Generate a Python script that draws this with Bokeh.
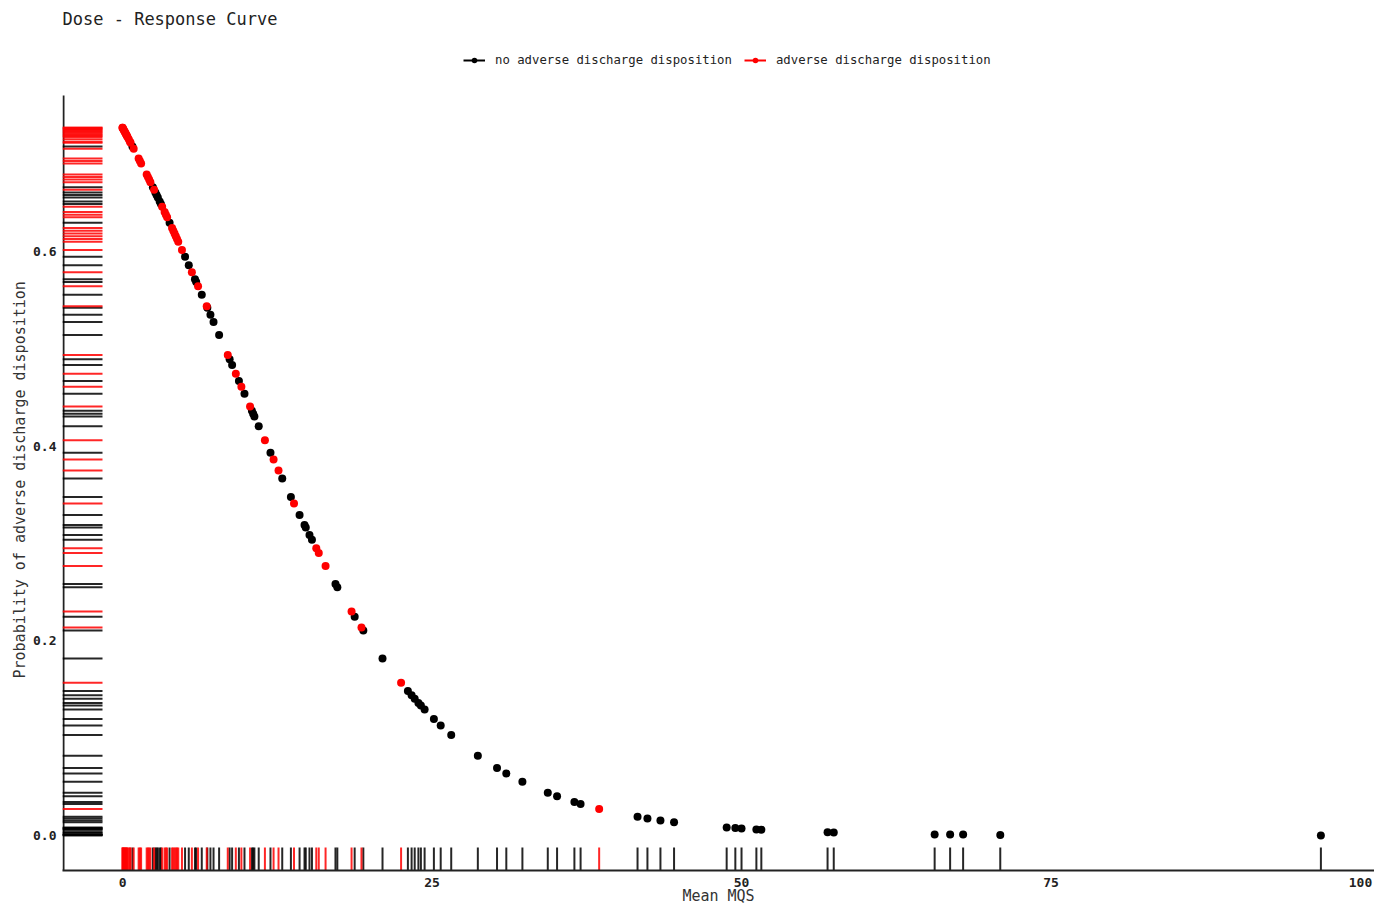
from bokeh.plotting import figure
from bokeh.models import Legend, LegendItem, FixedTicker, Range1d, PrintfTickFormatter, Title
from bokeh.embed import file_html
from bokeh.resources import INLINE

FONT = "DejaVu Sans Mono"
title_text = "Dose - Response Curve"
x_label = "Mean MQS"
y_label = "Probability of adverse discharge disposition"
series_names = ["no adverse discharge disposition", "adverse discharge disposition"]
series_colors = ["#000000", "#ff0000"]
x_ticks = [0, 25, 50, 75, 100]
y_ticks = [0.0, 0.2, 0.4, 0.6]

# Mean MQS of each patient
mqs = [0.0, 0.0, 0.05, 0.1, 0.15, 0.2, 0.25, 0.3, 0.35, 0.4, 0.5, 0.6, 0.65,
       0.8, 0.9, 1.3, 1.4, 1.5, 1.95, 2.05, 2.15, 2.25,
       2.45, 2.55, 2.65, 2.75, 2.85, 3.0, 3.1, 3.2, 3.4, 3.5, 3.6, 3.8,
       4.0, 4.1, 4.2, 4.3, 4.4, 4.5, 4.8, 5.05, 5.35, 5.6, 5.85, 5.95, 6.1, 6.4,
       6.8, 6.85, 7.1, 7.35, 7.8, 8.5, 8.65, 8.85, 9.15, 9.4, 9.6, 9.85,
       10.3, 10.45, 10.55, 10.65, 11.0, 11.5, 11.95, 12.2, 12.6, 12.9, 13.6, 13.85,
       14.3, 14.7, 14.8, 15.1, 15.3, 15.65, 15.85, 16.4, 17.2, 17.35, 18.5, 18.75,
       19.3, 19.45, 21.0, 22.5, 23.05, 23.35, 23.6, 23.9, 24.1, 24.4,
       25.15, 25.7, 26.55, 28.7, 30.25, 31.0, 32.3, 34.35, 35.1, 36.5, 37.0, 38.5,
       41.6, 42.4, 43.45, 44.55, 48.8, 49.5, 50.0, 51.2, 51.6, 56.95, 57.45,
       65.6, 66.85, 67.9, 70.9, 96.8]

# 1 = adverse discharge disposition, 0 = no adverse discharge disposition
adverse = [1, 1, 1, 1, 1, 1, 1, 1, 1, 1, 1, 1, 1,
           0, 1, 1, 1, 1, 1, 1, 1, 1,
           0, 1, 0, 0, 0, 0, 0, 1, 1, 1, 1, 0,
           1, 1, 1, 1, 1, 1, 1, 0, 0, 1, 0, 0, 1, 0,
           1, 0, 0, 0, 0, 1, 0, 0, 1, 0, 1, 0,
           1, 0, 0, 0, 0, 1, 0, 1, 1, 0, 0, 1,
           0, 0, 0, 0, 0, 1, 1, 1, 0, 0, 1, 0,
           1, 0, 0, 1, 0, 0, 0, 0, 0, 0,
           0, 0, 0, 0, 0, 0, 0, 0, 0, 0, 0, 1,
           0, 0, 0, 0, 0, 0, 0, 0, 0, 0, 0,
           0, 0, 0, 0, 0]

# Predicted probability of adverse discharge disposition
prob = [0.7271, 0.7271, 0.7259, 0.7247, 0.7236, 0.7224, 0.7212, 0.7200, 0.7188, 0.7176, 0.7152, 0.7128, 0.7116,
        0.7079, 0.7055, 0.6955, 0.6930, 0.6905, 0.6790, 0.6765, 0.6739, 0.6712,
        0.6660, 0.6634, 0.6607, 0.6580, 0.6554, 0.6514, 0.6487, 0.6460, 0.6406, 0.6378, 0.6351, 0.6296,
        0.6241, 0.6213, 0.6185, 0.6157, 0.6129, 0.6101, 0.6016, 0.5945, 0.5859, 0.5787, 0.5715, 0.5686, 0.5642, 0.5555,
        0.5438, 0.5423, 0.5350, 0.5276, 0.5143, 0.4936, 0.4892, 0.4833, 0.4744, 0.4670, 0.4611, 0.4538,
        0.4407, 0.4363, 0.4334, 0.4305, 0.4204, 0.4060, 0.3932, 0.3862, 0.3750, 0.3668, 0.3478, 0.3411,
        0.3292, 0.3189, 0.3163, 0.3086, 0.3037, 0.2950, 0.2901, 0.2769, 0.2583, 0.2549, 0.2300, 0.2248,
        0.2136, 0.2107, 0.1818, 0.1569, 0.1484, 0.1440, 0.1404, 0.1362, 0.1334, 0.1294,
        0.1197, 0.1130, 0.1033, 0.0820, 0.0692, 0.0637, 0.0551, 0.0438, 0.0402, 0.0343, 0.0324, 0.0273,
        0.0191, 0.0174, 0.0154, 0.0135, 0.0082, 0.0076, 0.0071, 0.0062, 0.0059, 0.0032, 0.0030,
        0.0011, 0.0010, 0.0009, 0.0006, 0.0000]

# frame geometry (pixels): left 62, right 1374, top 33, bottom 870; axis drawn up to y=95
FRAME_TOP, AXIS_TOP, FRAME_BOTTOM = 33, 95, 870
X_START, X_END = -4.85, 101.13
Y_PX = 973.3
Y_START = -0.036
Y_END = Y_START + (FRAME_BOTTOM - FRAME_TOP) / Y_PX
Y_AXIS_END = Y_START + (FRAME_BOTTOM - AXIS_TOP) / Y_PX
X_PX = 1312 / (X_END - X_START)
RUG_Y_LEN = 23 / Y_PX
RUG_X_LEN = 40 / X_PX

p = figure(width=1374, height=907, output_backend="svg", toolbar_location=None,
           x_range=Range1d(X_START, X_END), y_range=Range1d(Y_START, Y_END),
           min_border_left=62, min_border_right=0, min_border_top=FRAME_TOP,
           min_border_bottom=907 - FRAME_BOTTOM)

p.title.text = title_text
p.title.text_font = FONT
p.title.text_font_size = "17px"
p.title.text_font_style = "normal"
p.title.text_color = "#222222"
p.title.align = "left"

p.grid.visible = False
p.outline_line_color = None

for ax in (p.xaxis[0], p.yaxis[0]):
    ax.axis_line_color = "#222222"
    ax.axis_line_width = 2
    ax.major_tick_line_color = None
    ax.minor_tick_line_color = None
    ax.major_tick_out = 0
    ax.major_tick_in = 0
    ax.minor_tick_out = 0
    ax.major_label_text_font = FONT
    ax.major_label_text_font_size = "13px"
    ax.major_label_text_font_style = "bold"
    ax.major_label_text_color = "#222222"
    ax.axis_label_text_font = FONT
    ax.axis_label_text_font_size = "15px"
    ax.axis_label_text_font_style = "normal"
    ax.axis_label_text_color = "#333333"

p.yaxis.axis_line_color = None
p.xaxis.major_label_standoff = 7
p.yaxis.major_label_standoff = 6
p.xaxis.axis_label = x_label
p.xaxis.axis_label_standoff = -3
p.xaxis.ticker = FixedTicker(ticks=x_ticks)
p.yaxis.ticker = FixedTicker(ticks=y_ticks)
p.yaxis.formatter = PrintfTickFormatter(format="%.1f")

# vertical axis title, placed along the drawn part of the axis
ytitle = Title(text=y_label, align="left", offset=192,
               text_font=FONT, text_font_size="15px", text_font_style="normal",
               text_color="#333333", standoff=4)
p.add_layout(ytitle, "left")

# left axis line, drawn only up to the top of the data area
p.segment(x0=[X_START + 1 / X_PX], x1=[X_START + 1 / X_PX], y0=[Y_START], y1=[Y_AXIS_END],
          line_color="#222222", line_width=2)

for flag in (0, 1):
    xs = [m for m, a in zip(mqs, adverse) if a == flag]
    ys = [v for v, a in zip(prob, adverse) if a == flag]
    col = series_colors[flag]
    # rugs
    p.segment(x0=xs, x1=xs, y0=[Y_START] * len(xs), y1=[Y_START + RUG_Y_LEN] * len(xs),
              line_color=col, line_width=2, line_alpha=0.85)
    p.segment(x0=[X_START] * len(ys), x1=[X_START + RUG_X_LEN] * len(ys), y0=ys, y1=ys,
              line_color=col, line_width=2, line_alpha=0.85)

items = []
nan = float("nan")
for flag in (0, 1):
    xs = [m for m, a in zip(mqs, adverse) if a == flag]
    ys = [v for v, a in zip(prob, adverse) if a == flag]
    col = series_colors[flag]
    sc = p.scatter(xs, ys, size=8, fill_color=col, line_color=col, line_width=0)
    ln = p.line(x=[nan, nan], y=[nan, nan], line_color=col, line_width=2)
    items.append(LegendItem(label=series_names[flag], renderers=[ln, sc]))

legend = Legend(items=items, orientation="horizontal",
                location=(401, FRAME_BOTTOM - 67),
                border_line_color=None, background_fill_alpha=0,
                label_text_font=FONT, label_text_font_size="12.3px",
                label_text_color="#222222",
                glyph_width=22, glyph_height=14, label_standoff=10, spacing=12,
                padding=0, margin=0)
p.add_layout(legend)

open("out.html", "w").write(file_html(p, INLINE))
